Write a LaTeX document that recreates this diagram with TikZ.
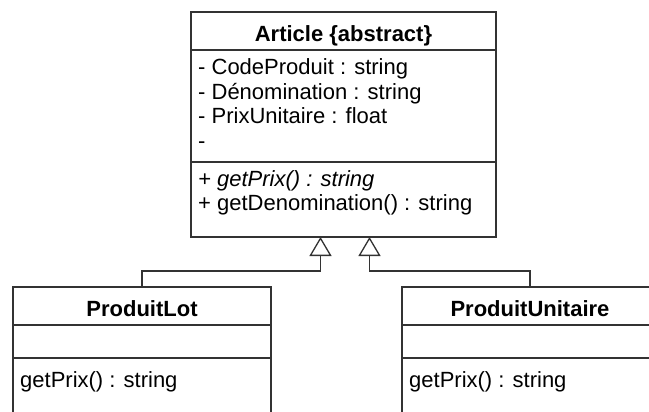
\documentclass[tikz,border=0pt]{standalone}
\usepackage{fontspec}
\setmainfont{Liberation Sans}
\usetikzlibrary{arrows.meta}
\definecolor{umlline}{gray}{0.2}
\begin{document}
\begin{tikzpicture}[x=1pt,y=-1pt,%
% common options for the class compartments:
box/.style = {draw=umlline, line width=1.3pt, anchor=north west,
            inner sep=0, outer sep=0},
% common options for the texts:
member/.style = {anchor=base west, inner sep=0,
            font=\fontsize{22}{24}\selectfont},
title/.style = {anchor=base, inner sep=0,
            font=\bfseries\fontsize{22}{24}\selectfont},
extends/.style = {draw=umlline, line width=1.3pt,
            -{Triangle[open,length=19pt,width=22pt,line width=1.3pt]}}]
\useasboundingbox (0,0) rectangle (649,412);
\clip (0,0) rectangle (649,412);
% Article
\node[box, minimum width=305pt, minimum height=38pt] (artH) at (191,12) {};
\node[box, minimum width=305pt, minimum height=112pt] (artA) at (191,50) {};
\node[box, minimum width=305pt, minimum height=75pt] (artO) at (191,162) {};
\node[title] (art) at (343.5,42) {Article \{abstract\}};
\node[member] (a1) at (198,75) {- CodeProduit : string};
\node[member] (a2) at (198,99.5) {- Dénomination : string};
\node[member] (a3) at (198,124) {- PrixUnitaire : float};
\node[member] (a4) at (198,148.5) {-};
\node[member] (o1) at (198,186) {\itshape + getPrix() : string};
\node[member] (o2) at (198,211) {+ getDenomination() : string};
% ProduitLot
\node[box, minimum width=258pt, minimum height=38pt] (lotH) at (13,287) {};
\node[box, minimum width=258pt, minimum height=33pt] (lotA) at (13,325) {};
\node[box, minimum width=258pt, minimum height=90pt] (lotO) at (13,358) {};
\node[title] (lot) at (142,316) {ProduitLot};
\node[member] (l1) at (20,387) {getPrix() : string};
% ProduitUnitaire
\node[box, minimum width=256pt, minimum height=38pt] (uniH) at (402,287) {};
\node[box, minimum width=256pt, minimum height=33pt] (uniA) at (402,325) {};
\node[box, minimum width=256pt, minimum height=90pt] (uniO) at (402,358) {};
\node[title] (uni) at (530,316) {ProduitUnitaire};
\node[member] (u1) at (409,387) {getPrix() : string};
% inheritance
\coordinate (tipL) at (320.5,237);
\coordinate (tipR) at (369.5,237);
\draw[extends] (lotH.north) -- ++(0,-16) -| (tipL);
\draw[extends] (uniH.north) -- ++(0,-16) -| (tipR);
\end{tikzpicture}
\end{document}
